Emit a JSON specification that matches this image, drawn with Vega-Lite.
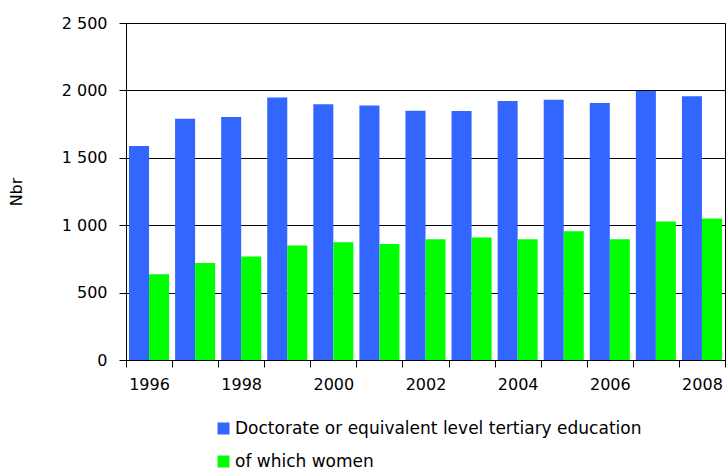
{
  "$schema": "https://vega.github.io/schema/vega-lite/v6.json",
  "autosize": {"type": "none"},
  "padding": {"left": 126, "top": 23, "right": 1, "bottom": 110},
  "width": 599,
  "height": 337,
  "background": "white",
  "config": {
    "font": "DejaVu Sans",
    "view": {"stroke": "#000000", "strokeWidth": 1}
  },
  "data": {
    "values": [
      {"year": "1996", "series": "Doctorate or equivalent level  tertiary education", "value": 1587},
      {"year": "1997", "series": "Doctorate or equivalent level  tertiary education", "value": 1790},
      {"year": "1998", "series": "Doctorate or equivalent level  tertiary education", "value": 1802},
      {"year": "1999", "series": "Doctorate or equivalent level  tertiary education", "value": 1947},
      {"year": "2000", "series": "Doctorate or equivalent level  tertiary education", "value": 1898},
      {"year": "2001", "series": "Doctorate or equivalent level  tertiary education", "value": 1888},
      {"year": "2002", "series": "Doctorate or equivalent level  tertiary education", "value": 1849},
      {"year": "2003", "series": "Doctorate or equivalent level  tertiary education", "value": 1847},
      {"year": "2004", "series": "Doctorate or equivalent level  tertiary education", "value": 1921},
      {"year": "2005", "series": "Doctorate or equivalent level  tertiary education", "value": 1931},
      {"year": "2006", "series": "Doctorate or equivalent level  tertiary education", "value": 1906},
      {"year": "2007", "series": "Doctorate or equivalent level  tertiary education", "value": 1995},
      {"year": "2008", "series": "Doctorate or equivalent level  tertiary education", "value": 1956},
      {"year": "1996", "series": "of which women", "value": 636},
      {"year": "1997", "series": "of which women", "value": 720},
      {"year": "1998", "series": "of which women", "value": 767},
      {"year": "1999", "series": "of which women", "value": 849},
      {"year": "2000", "series": "of which women", "value": 874},
      {"year": "2001", "series": "of which women", "value": 861},
      {"year": "2002", "series": "of which women", "value": 896},
      {"year": "2003", "series": "of which women", "value": 909},
      {"year": "2004", "series": "of which women", "value": 896},
      {"year": "2005", "series": "of which women", "value": 955},
      {"year": "2006", "series": "of which women", "value": 896},
      {"year": "2007", "series": "of which women", "value": 1027},
      {"year": "2008", "series": "of which women", "value": 1049}
    ]
  },
  "mark": {"type": "bar"},
  "encoding": {
    "x": {
      "field": "year",
      "type": "nominal",
      "scale": {"paddingInner": 0, "paddingOuter": 0},
      "axis": {
        "title": null,
        "labelAngle": 0,
        "tickBand": "extent",
        "domainColor": "#000000",
        "tickColor": "#000000",
        "tickSize": 7,
        "labelFontSize": 16,
        "labelColor": "#000000",
        "labelPadding": 9,
        "labelExpr": "toNumber(datum.value) % 2 == 0 ? datum.value : ''"
      }
    },
    "xOffset": {
      "field": "series",
      "type": "nominal",
      "sort": ["Doctorate or equivalent level  tertiary education", "of which women"],
      "scale": {"paddingInner": 0, "paddingOuter": 0.15}
    },
    "y": {
      "field": "value",
      "type": "quantitative",
      "scale": {"domain": [0, 2500]},
      "axis": {
        "title": "Nbr",
        "titleFontSize": 16,
        "titleFontWeight": "normal",
        "titleColor": "#000000",
        "titlePadding": 37,
        "values": [0, 500, 1000, 1500, 2000, 2500],
        "grid": true,
        "gridColor": "#000000",
        "gridOpacity": 1,
        "domainColor": "#000000",
        "tickColor": "#000000",
        "tickSize": 7,
        "labelFontSize": 16,
        "labelColor": "#000000",
        "labelPadding": 12,
        "labelExpr": "replace(format(datum.value, ','), ',', ' ')"
      }
    },
    "color": {
      "field": "series",
      "type": "nominal",
      "sort": ["Doctorate or equivalent level  tertiary education", "of which women"],
      "scale": {"range": ["#3366FF", "#00FF00"]},
      "legend": {
        "title": null,
        "orient": "none",
        "legendX": 89,
        "legendY": 397,
        "direction": "vertical",
        "symbolType": "square",
        "symbolSize": 144,
        "symbolStrokeWidth": 0,
        "labelFontSize": 17,
        "labelColor": "#000000",
        "labelOffset": 3,
        "rowPadding": 15,
        "labelLimit": 600
      }
    }
  }
}
